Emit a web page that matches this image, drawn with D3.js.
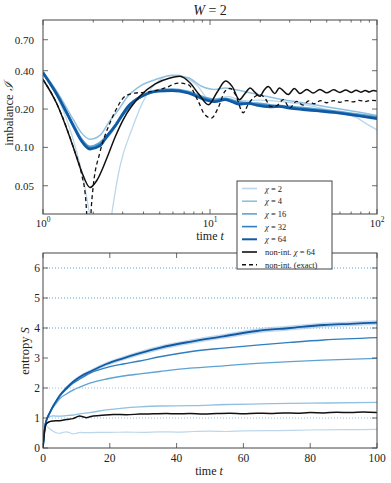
<!DOCTYPE html>
<html>
<head>
<meta charset="utf-8">
<script src="https://cdnjs.cloudflare.com/ajax/libs/d3/7.8.5/d3.min.js"></script>
<style>
  body { margin: 0; background: #fff; }
  svg text { fill: #222; }
</style>
</head>
<body>
<div class="chart"></div>
<script>
// series labels / colours (Blues)
const chiLabels = ["2", "4", "16", "32", "64"];
const chiColors = ["#bcd7ec", "#91c1e0", "#5da2d3", "#2f7ebf", "#0f5aa3"];
const chiWidths = [1.3, 1.5, 1.8, 2.0, 2.6];
const chiSat = [1, 2, 4, 5, 6]; // log2(chi), dotted lines

// imbalance I(t), [t, I]
const imbChi2 = [[1,0.39],[1.21,0.255],[1.4,0.16],[1.6,0.09],[1.75,0.055],[1.9,0.03],[2.05,0.017],[2.3,0.014],[2.5,0.022],[2.6,0.032],[2.89,0.071],[3.4,0.138],[4.08,0.245],[4.9,0.33],[5.6,0.366],[6.3,0.37],[7.4,0.345],[8.5,0.3],[9.3,0.255],[10.2,0.232],[11.5,0.245],[13,0.25],[15,0.235],[17,0.232],[20,0.235],[24,0.232],[30,0.225],[36,0.218],[45,0.205],[55,0.193],[65,0.182],[75,0.172],[85,0.155],[100,0.137]];
const imbChi4 = [[1,0.39],[1.21,0.275],[1.52,0.165],[1.7,0.13],[1.91,0.116],[2.2,0.125],[2.5,0.16],[2.85,0.2],[3.2,0.25],[3.7,0.295],[4.7,0.34],[5.9,0.366],[7.4,0.352],[8.9,0.302],[10.7,0.285],[12.3,0.293],[14,0.285],[16,0.275],[20,0.258],[26,0.24],[35,0.225],[45,0.213],[60,0.2],[80,0.188],[100,0.178]];
const imbChi16 = [[1,0.39],[1.21,0.268],[1.52,0.152],[1.7,0.117],[1.91,0.102],[2.2,0.11],[2.6,0.14],[3.0,0.185],[3.5,0.232],[4.2,0.268],[5,0.284],[5.9,0.287],[7.4,0.275],[9.3,0.247],[10.7,0.238],[12.3,0.242],[15,0.228],[19,0.222],[23,0.216],[30,0.21],[40,0.202],[55,0.193],[75,0.183],[100,0.174]];
const imbChi32 = [[1,0.388],[1.21,0.263],[1.52,0.149],[1.7,0.114],[1.91,0.099],[2.2,0.106],[2.6,0.135],[3.0,0.178],[3.5,0.226],[4.2,0.262],[5,0.279],[5.9,0.282],[7.4,0.27],[9.3,0.241],[10.7,0.232],[12.3,0.239],[15,0.222],[19,0.217],[23,0.211],[30,0.206],[40,0.198],[55,0.19],[75,0.179],[100,0.17]];
const imbChi64 = [[1,0.384],[1.21,0.26],[1.52,0.147],[1.7,0.112],[1.91,0.097],[2.2,0.103],[2.41,0.1225],[2.7,0.147],[3.24,0.211],[3.9,0.252],[4.9,0.276],[5.9,0.279],[7.4,0.267],[9.3,0.237],[10.7,0.228],[12.3,0.237],[13.5,0.228],[15,0.218],[17,0.222],[19,0.214],[23,0.208],[26,0.21],[30,0.203],[36,0.198],[45,0.193],[57,0.187],[75,0.178],[100,0.168]];
const imbNonInt = [[1,0.341],[1.21,0.22],[1.52,0.1],[1.7,0.065],[1.91,0.0484],[2.1,0.055],[2.4,0.081],[2.7,0.12],[3.03,0.166],[3.8,0.252],[4.7,0.315],[5.76,0.351],[6.6,0.361],[7.6,0.32],[8.6,0.26],[9.8,0.216],[11,0.27],[12.4,0.332],[13.6,0.3],[15,0.237],[16.2,0.265],[17.4,0.293],[18.6,0.27],[19.9,0.252],[21,0.28],[22.3,0.3],[24.5,0.265],[26,0.293],[29.4,0.26],[32,0.29],[34.6,0.265],[38,0.285],[41.5,0.267],[45.5,0.285],[50,0.268],[55,0.283],[60,0.27],[65,0.282],[70,0.27],[75,0.281],[80,0.271],[85,0.28],[90,0.272],[95,0.28],[100,0.276]];
const imbExact = [[1,0.341],[1.21,0.22],[1.52,0.1],[1.7,0.062],[1.8,0.04],[1.86,0.022],[1.9,0.02],[1.95,0.035],[2.0,0.05],[2.19,0.091],[2.52,0.156],[2.75,0.2],[3.1,0.252],[3.55,0.267],[4.27,0.272],[5.4,0.293],[6.45,0.32],[7.4,0.311],[8.5,0.23],[9.3,0.181],[10.2,0.17],[11.2,0.205],[12.3,0.276],[13.2,0.29],[14.2,0.26],[15.8,0.187],[17,0.22],[18.2,0.245],[20,0.26],[21.5,0.24],[23,0.21],[25,0.212],[27.5,0.237],[30,0.204],[33,0.23],[36,0.215],[39,0.232],[42,0.22],[46,0.233],[50,0.224],[55,0.233],[60,0.226],[66,0.233],[72,0.228],[78,0.234],[85,0.229],[92,0.234],[100,0.232]];

// entropy S(t), [t, S]
const entChi2 = [[0,0],[0.3,0.45],[0.7,0.76],[1.2,0.72],[2,0.64],[3,0.56],[4,0.51],[5,0.49],[6,0.52],[7,0.54],[8,0.51],[9,0.47],[10,0.49],[11,0.52],[13,0.51],[16,0.52],[20,0.52],[25,0.53],[30,0.52],[35,0.54],[40,0.53],[45,0.55],[50,0.56],[55,0.55],[60,0.57],[70,0.58],[80,0.6],[90,0.61],[100,0.62]];
const entChi4 = [[0,0],[0.3,0.45],[0.7,0.8],[1.2,0.98],[2,1.05],[3,1.07],[5,1.06],[7,1.08],[9,1.1],[11,1.14],[14,1.18],[19,1.27],[24,1.33],[29,1.37],[35,1.4],[44,1.41],[55,1.45],[65,1.47],[74,1.49],[85,1.5],[100,1.52]];
const entChi16 = [[0,0],[0.3,0.42],[0.7,0.78],[1.2,0.98],[2,1.15],[3,1.35],[4,1.5],[5,1.64],[7,1.8],[9,1.93],[11,2.03],[14,2.16],[19,2.3],[24,2.4],[29,2.47],[35,2.55],[44,2.66],[54,2.74],[64,2.82],[74,2.88],[84,2.93],[100,2.99]];
const entChi32 = [[0,0],[0.3,0.42],[0.7,0.78],[1.2,0.98],[2,1.17],[3,1.38],[4,1.56],[5,1.72],[7,1.96],[9,2.16],[11,2.3],[14,2.49],[19,2.68],[24,2.8],[29,2.9],[35,3.04],[44,3.21],[54,3.33],[64,3.43],[74,3.52],[84,3.6],[100,3.68]];
const entChi64 = [[0,0],[0.3,0.42],[0.7,0.78],[1.2,0.98],[2,1.17],[3,1.39],[4,1.58],[5,1.75],[7,2.0],[9,2.21],[11,2.37],[14,2.54],[19,2.8],[24,2.99],[29,3.16],[35,3.34],[44,3.54],[54,3.72],[64,3.9],[74,4.0],[84,4.1],[92,4.14],[100,4.18]];
const entChi64Spread = [[0,0],[2,0.02],[5,0.03],[10,0.05],[20,0.07],[40,0.08],[70,0.08],[100,0.08]];
const entNonInt = [[0,0],[0.3,0.4],[0.7,0.72],[1.1,0.82],[2,0.88],[3,0.9],[5,0.91],[7,0.95],[9,0.98],[10,1.03],[11,1.07],[12,1.04],[13,1.01],[14,1.04],[15,1.07],[17,1.08],[21,1.12],[25,1.11],[29,1.13],[33,1.14],[37,1.15],[40,1.14],[44,1.15],[48,1.13],[52,1.15],[56,1.16],[60,1.14],[64,1.16],[68,1.15],[72,1.17],[76,1.16],[80,1.18],[84,1.17],[88,1.19],[92,1.18],[96,1.2],[100,1.18]];

// ticks
const imbTicks = [0.05, 0.1, 0.2, 0.4, 0.7];
const logMajor = [1, 10, 100];
const logMinor = [2,3,4,5,6,7,8,9,20,30,40,50,60,70,80,90];
const timeTicks = [0, 20, 40, 60, 80, 100];
const entTicks = [0, 1, 2, 3, 4, 5, 6];

const W = 391, H = 483;
const svg = d3.select(".chart").append("svg")
    .attr("width", W).attr("height", H)
    .attr("font-family", "'Liberation Serif', 'DejaVu Serif', serif");

const frameCol = "#444";

function frame(x0, x1, y0, y1) {
    svg.append("rect")
        .attr("x", x0).attr("y", y0)
        .attr("width", x1 - x0).attr("height", y1 - y0)
        .attr("fill", "none").attr("stroke", frameCol).attr("stroke-width", 1);
}

// ---------- top panel: imbalance (log-log)
const topBox = {x0: 43, x1: 377, y0: 20, y1: 214};
const xTop = d3.scaleLog().domain([1, 100]).range([topBox.x0, topBox.x1]);
const yTop = d3.scaleLog().domain([0.03, 1]).range([topBox.y1, topBox.y0]);

svg.append("clipPath").attr("id", "clipTop").append("rect")
    .attr("x", topBox.x0).attr("y", topBox.y0)
    .attr("width", topBox.x1 - topBox.x0).attr("height", topBox.y1 - topBox.y0);

const gTop = svg.append("g").attr("clip-path", "url(#clipTop)");

const lineTop = d3.line()
    .x(d => xTop(d[0]))
    .y(d => yTop(Math.max(d[1], 0.005)))
    .curve(d3.curveMonotoneX);

const imbSeries = [imbChi2, imbChi4, imbChi16, imbChi32, imbChi64];
imbSeries.forEach((s, i) => {
    gTop.append("path")
        .datum(s)
        .attr("d", lineTop)
        .attr("fill", "none")
        .attr("stroke", chiColors[i])
        .attr("stroke-width", chiWidths[i]);
});
gTop.append("path").datum(imbNonInt).attr("d", lineTop)
    .attr("fill", "none").attr("stroke", "#111").attr("stroke-width", 1.5);
gTop.append("path").datum(imbExact).attr("d", lineTop)
    .attr("fill", "none").attr("stroke", "#111").attr("stroke-width", 1.3)
    .attr("stroke-dasharray", "4,3");

frame(topBox.x0, topBox.x1, topBox.y0, topBox.y1);

// x ticks (log), inside on bottom and top
const tkTop = svg.append("g").attr("stroke", frameCol).attr("stroke-width", 0.8);
logMajor.forEach(t => {
    const x = xTop(t);
    tkTop.append("line").attr("x1", x).attr("x2", x).attr("y1", topBox.y1).attr("y2", topBox.y1 - 5);
    tkTop.append("line").attr("x1", x).attr("x2", x).attr("y1", topBox.y0).attr("y2", topBox.y0 + 5);
});
logMinor.forEach(t => {
    const x = xTop(t);
    tkTop.append("line").attr("x1", x).attr("x2", x).attr("y1", topBox.y1).attr("y2", topBox.y1 - 2.5);
    tkTop.append("line").attr("x1", x).attr("x2", x).attr("y1", topBox.y0).attr("y2", topBox.y0 + 2.5);
});
imbTicks.forEach(v => {
    const y = yTop(v);
    tkTop.append("line").attr("x1", topBox.x0).attr("x2", topBox.x0 + 5).attr("y1", y).attr("y2", y);
    tkTop.append("line").attr("x1", topBox.x1).attr("x2", topBox.x1 - 5).attr("y1", y).attr("y2", y);
    svg.append("text").attr("x", topBox.x0 - 9).attr("y", y + 4)
        .attr("text-anchor", "end").attr("font-size", 11)
        .text(d3.format(".2f")(v));
});
logMajor.forEach(t => {
    const lbl = svg.append("text").attr("x", xTop(t)).attr("y", topBox.y1 + 13)
        .attr("text-anchor", "middle").attr("font-size", 11);
    lbl.append("tspan").text("10");
    lbl.append("tspan").attr("dy", -5).attr("font-size", 7.5).text(Math.round(Math.log10(t)));
});

svg.append("text").attr("x", 210).attr("y", 15).attr("text-anchor", "middle")
    .attr("font-size", 14)
    .call(t => {
        t.append("tspan").attr("font-style", "italic").text("W");
        t.append("tspan").text(" = 2");
    });
svg.append("text").attr("x", 210).attr("y", 240).attr("text-anchor", "middle")
    .attr("font-size", 12)
    .call(t => {
        t.append("tspan").text("time ");
        t.append("tspan").attr("font-style", "italic").text("t");
    });
svg.append("text").attr("transform", "translate(13,114) rotate(-90)")
    .attr("text-anchor", "middle").attr("font-size", 12.5)
    .call(t => {
        t.append("tspan").text("imbalance ");
        t.append("tspan").attr("font-style", "italic").text("\u2110");
    });

// ---------- bottom panel: entropy
const botBox = {x0: 43, x1: 377, y0: 253, y1: 448};
const xBot = d3.scaleLinear().domain([0, 100]).range([botBox.x0, botBox.x1]);
const yBot = d3.scaleLinear().domain([0, 6.5]).range([botBox.y1, botBox.y0]);

svg.append("clipPath").attr("id", "clipBot").append("rect")
    .attr("x", botBox.x0).attr("y", botBox.y0)
    .attr("width", botBox.x1 - botBox.x0).attr("height", botBox.y1 - botBox.y0);
const gBot = svg.append("g").attr("clip-path", "url(#clipBot)");

chiSat.forEach((v, i) => {
    gBot.append("line")
        .attr("x1", botBox.x0).attr("x2", botBox.x1)
        .attr("y1", yBot(v)).attr("y2", yBot(v))
        .attr("stroke", i < 2 ? chiColors[1] : chiColors[2])
        .attr("stroke-width", 1.1)
        .attr("stroke-dasharray", "1,2");
});

// shaded spread around chi=64
const spread = d3.scaleLinear()
    .domain(entChi64Spread.map(d => d[0]))
    .range(entChi64Spread.map(d => d[1]));
const band = d3.area()
    .x(d => xBot(d[0]))
    .y0(d => yBot(d[1] - spread(d[0])))
    .y1(d => yBot(d[1] + spread(d[0])))
    .curve(d3.curveMonotoneX);
gBot.append("path").datum(entChi64).attr("d", band)
    .attr("fill", "#a9c8e6").attr("opacity", 0.7);

const lineBot = d3.line()
    .x(d => xBot(d[0]))
    .y(d => yBot(d[1]))
    .curve(d3.curveMonotoneX);

const entSeries = [entChi2, entChi4, entChi16, entChi32, entChi64];
const entWidths = [1.2, 1.3, 1.3, 1.4, 1.8];
entSeries.forEach((s, i) => {
    gBot.append("path")
        .datum(s)
        .attr("d", lineBot)
        .attr("fill", "none")
        .attr("stroke", chiColors[i])
        .attr("stroke-width", entWidths[i]);
});
gBot.append("path").datum(entNonInt).attr("d", lineBot)
    .attr("fill", "none").attr("stroke", "#111").attr("stroke-width", 1.5);

frame(botBox.x0, botBox.x1, botBox.y0, botBox.y1);

const tkBot = svg.append("g").attr("stroke", frameCol).attr("stroke-width", 0.8);
timeTicks.forEach(t => {
    const x = xBot(t);
    tkBot.append("line").attr("x1", x).attr("x2", x).attr("y1", botBox.y1).attr("y2", botBox.y1 - 5);
    tkBot.append("line").attr("x1", x).attr("x2", x).attr("y1", botBox.y0).attr("y2", botBox.y0 + 5);
    svg.append("text").attr("x", x).attr("y", botBox.y1 + 14)
        .attr("text-anchor", "middle").attr("font-size", 11.5).text(t);
});
entTicks.forEach(v => {
    const y = yBot(v);
    tkBot.append("line").attr("x1", botBox.x0).attr("x2", botBox.x0 + 5).attr("y1", y).attr("y2", y);
    tkBot.append("line").attr("x1", botBox.x1).attr("x2", botBox.x1 - 5).attr("y1", y).attr("y2", y);
    svg.append("text").attr("x", botBox.x0 - 3).attr("y", y + 4)
        .attr("text-anchor", "end").attr("font-size", 11.5).text(v);
});

svg.append("text").attr("x", 209).attr("y", 475).attr("text-anchor", "middle")
    .attr("font-size", 12)
    .call(t => {
        t.append("tspan").text("time ");
        t.append("tspan").attr("font-style", "italic").text("t");
    });
svg.append("text").attr("transform", "translate(29,351) rotate(-90)")
    .attr("text-anchor", "middle").attr("font-size", 12.5)
    .call(t => {
        t.append("tspan").text("entropy ");
        t.append("tspan").attr("font-style", "italic").text("S");
    });

// ---------- legend (sits across both panels)
const legendItems = chiLabels.map((c, i) => ({
    chi: c, color: chiColors[i], width: chiWidths[i] > 2 ? 2 : 1.6, dash: null
}));
legendItems.push({nonint: "non-int. ", chi: "64", color: "#111", width: 1.6, dash: null});
legendItems.push({text: "non-int. (exact)", color: "#111", width: 1.6, dash: "4,3"});

const lg = svg.append("g").attr("transform", "translate(237,181)");
lg.append("rect").attr("width", 95).attr("height", 88)
    .attr("fill", "#fff").attr("stroke", frameCol).attr("stroke-width", 1);
legendItems.forEach((d, i) => {
    const y = 7.5 + i * 12.7;
    lg.append("line").attr("x1", 5).attr("x2", 20).attr("y1", y).attr("y2", y)
        .attr("stroke", d.color).attr("stroke-width", d.width)
        .attr("stroke-dasharray", d.dash);
    const t = lg.append("text").attr("x", 28).attr("y", y + 3).attr("font-size", 8.5);
    if (d.text) {
        t.text(d.text);
    } else {
        if (d.nonint) t.append("tspan").text(d.nonint);
        t.append("tspan").attr("font-style", "italic").text("\u03c7");
        t.append("tspan").text(" = " + d.chi);
    }
});
</script>
</body>
</html>
